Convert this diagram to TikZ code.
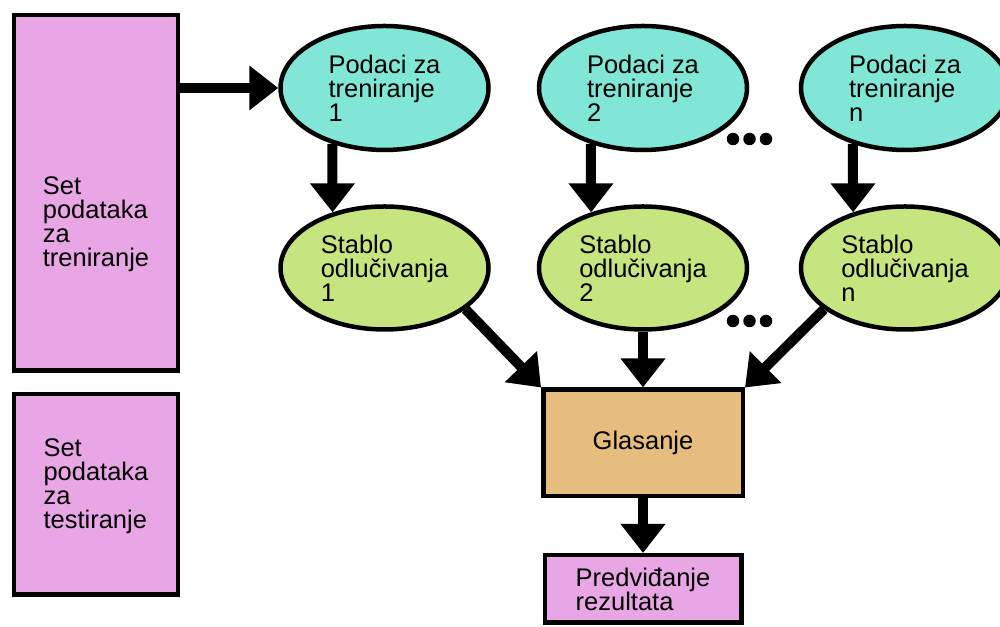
\documentclass[tikz,border=0pt]{standalone}
\usepackage{fontspec}
\setmainfont{Liberation Sans}
\usepackage{tikz}
\usetikzlibrary{shapes.geometric, arrows.meta, positioning}

\definecolor{setpink}{HTML}{E8A6E4}
\definecolor{datateal}{HTML}{80E6D6}
\definecolor{treegreen}{HTML}{C6E57E}
\definecolor{voteorange}{HTML}{E6BD7C}

\begin{document}
\begin{tikzpicture}[every node/.style = {align=left, font=\fontsize{14.5pt}{13.6pt}\selectfont},
  setbox/.style = {draw, line width=0.09cm, fill=setpink, minimum width=3.27cm},
  databall/.style = {ellipse, draw, line width=0.09cm, fill=datateal, minimum width=4.16cm, minimum height=2.48cm},
  treeball/.style = {ellipse, draw, line width=0.09cm, fill=treegreen, minimum width=4.16cm, minimum height=2.46cm},
  bigarrow/.style = {line width=0.2cm, -{Triangle[length=0.58cm, width=0.86cm]}}]
 \useasboundingbox (0,0) rectangle (20,12.54);

 % training and test sets
 \node [setbox, minimum height=7.11cm] (train) at (1.92,8.68) {};
 \node (traintext) at ([yshift=-0.62cm]train.center) {Set\\podataka\\za\\treniranje};
 \node [setbox, minimum height=4.01cm] (test) at (1.92,2.65) {};
 \node (testtext) at ([yshift=0.17cm]test.center) {Set\\podataka\\za\\testiranje};

 % bootstrap samples
 \node [databall] (data1) at (7.69,10.78) {Podaci za\\treniranje\\1};
 \node [databall] (data2) at (12.86,10.78) {Podaci za\\treniranje\\2};
 \node [databall] (datan) at (18.1,10.78) {Podaci za\\treniranje\\n};

 % trees
 \node [treeball] (tree1) at (7.69,7.18) {Stablo\\odlučivanja\\1};
 \node [treeball] (tree2) at (12.86,7.18) {Stablo\\odlučivanja\\2};
 \node [treeball] (treen) at (18.1,7.18) {Stablo\\odlučivanja\\n};

 % voting and result
 \node [draw, line width=0.09cm, fill=voteorange, minimum width=3.99cm, minimum height=2.13cm] (vote) at (12.86,3.68) {Glasanje};
 \node [draw, line width=0.09cm, fill=setpink, minimum width=3.93cm, minimum height=1.35cm] (result) at (12.86,0.76) {Predviđanje\\rezultata};

 \foreach \x in {14.66, 14.99, 15.32} {
   \fill (\x,9.76) circle (0.125);
   \fill (\x,6.12) circle (0.125);
 }

 \draw [bigarrow] (train.east |- data1.west) -- (data1.west);
 \draw [bigarrow] (data1.227) -- (tree1.133);
 \draw [bigarrow] (data2.227) -- (tree2.133);
 \draw [bigarrow] (datan.227) -- (treen.133);
 \draw [bigarrow] (tree1.333) -- (vote.north west);
 \draw [bigarrow] (tree2.south) -- (vote.north);
 \draw [bigarrow] (treen.207) -- (vote.north east);
 \draw [bigarrow] (vote.south) -- (result.north);
\end{tikzpicture}
\end{document}
